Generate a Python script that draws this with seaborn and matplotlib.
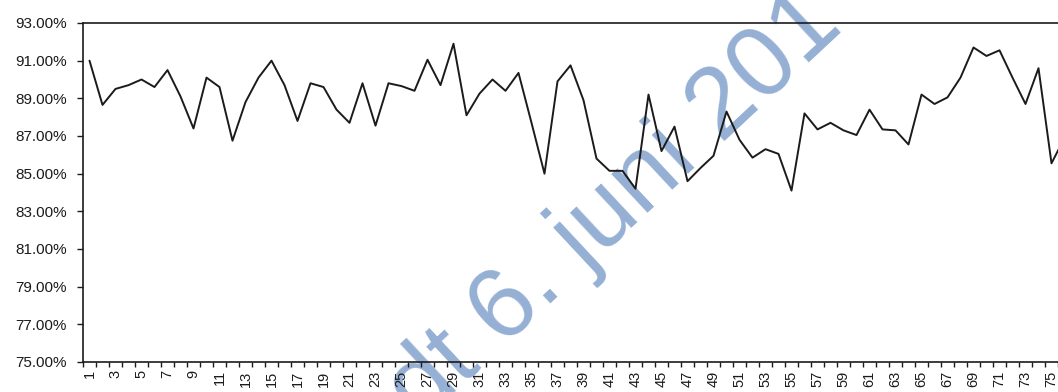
import numpy as np
import pandas as pd
import matplotlib
matplotlib.use("Agg")
import matplotlib.pyplot as plt
import seaborn as sns
from matplotlib.ticker import FuncFormatter, FixedLocator

# daily share, in percent
days = list(range(1, 77))
share = [
    91.0, 88.65, 89.5, 89.7, 90.0, 89.6, 90.5, 89.1, 87.4, 90.1,
    89.6, 86.75, 88.8, 90.1, 91.0, 89.7, 87.8, 89.8, 89.6, 88.4,
    87.7, 89.8, 87.55, 89.8, 89.65, 89.4, 91.05, 89.7, 91.9, 88.1,
    89.25, 90.0, 89.4, 90.35, 87.7, 85.0, 89.9, 90.75, 88.9, 85.8,
    85.15, 85.15, 84.2, 89.2, 86.2, 87.5, 84.6, 85.3, 85.95, 88.3,
    86.8, 85.85, 86.3, 86.05, 84.1, 88.2, 87.35, 87.7, 87.3, 87.05,
    88.4, 87.35, 87.3, 86.55, 89.2, 88.7, 89.05, 90.1, 91.7, 91.25,
    91.55, 90.1, 88.7, 90.6, 85.55, 86.9,
]
y_ticks = [75, 77, 79, 81, 83, 85, 87, 89, 91, 93]
x_labels = list(range(1, 76, 2))
watermark = "dt 6. juni 201"

df = pd.DataFrame({"dag": days, "andel": share})

sns.set_style("white")
plt.rcParams["font.family"] = ["Liberation Sans", "DejaVu Sans"]

fig = plt.figure(figsize=(10.58, 3.92), dpi=100)
ax = fig.add_axes([83 / 1058, 1 - 362 / 392, 975 / 1058, 339 / 392])
ax.set_zorder(1)
ax.patch.set_visible(False)

sns.lineplot(data=df, x="dag", y="andel", color="#1b1b1b", linewidth=1.4, ax=ax)

ax.set_xlim(0.5, 75.5)
ax.set_ylim(75, 93)
ax.set_xlabel("")
ax.set_ylabel("")

ax.set_yticks(y_ticks)
ax.yaxis.set_major_formatter(FuncFormatter(lambda v, _: f"{v:.2f}%"))
ax.set_xticks(x_labels)
ax.set_xticklabels([str(v) for v in x_labels], rotation=90)
ax.xaxis.set_minor_locator(FixedLocator(np.arange(0.5, 76, 1)))

ax.tick_params(axis="y", which="major", left=True, length=4.5, width=1.0,
               direction="out", pad=7, labelsize=11, colors="#1b1b1b")
ax.tick_params(axis="x", which="major", bottom=True, length=0, pad=6,
               labelsize=10.5, colors="#1b1b1b")
ax.tick_params(axis="x", which="minor", bottom=True, length=3.5, width=1.0,
               direction="out", color="#1b1b1b")

for side in ["left", "bottom", "top"]:
    ax.spines[side].set_visible(True)
    ax.spines[side].set_color("#1b1b1b")
    ax.spines[side].set_linewidth(1.2)
ax.spines["right"].set_visible(False)

# scanned watermark, drawn under the chart
fig.text(421 / 1058, 1 - 425 / 392, watermark, rotation=43,
         rotation_mode="anchor", ha="left", va="baseline",
         fontsize=73, color="#95b0d4", zorder=0.5)

fig.savefig("out.png", dpi=100)
plt.close(fig)
